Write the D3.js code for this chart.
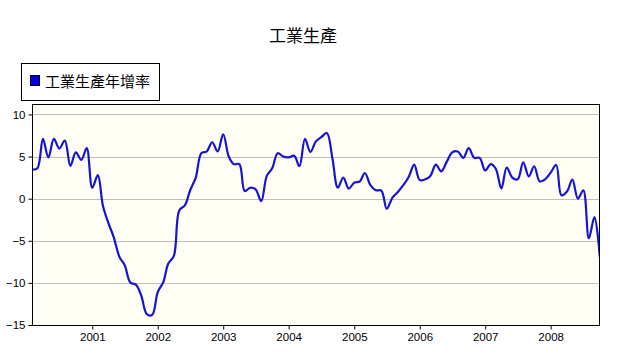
<!DOCTYPE html>
<html><head><meta charset="utf-8">
<script src="https://cdn.jsdelivr.net/npm/d3@7"></script>
<style>
body{margin:0;background:#fff;}
svg{display:block;}
</style></head>
<body>
<svg id="chart" width="632" height="356"></svg>
<script>
const title = "工業生產";
const seriesName = "工業生產年增率";
const startMonth = "2000-02";
const values = [
 3.45, 3.6, 7.1, 4.9, 7.1, 5.95, 6.9, 3.9, 5.5, 4.6, 6.0,
 1.3, 2.8, -0.8, -2.9, -4.6, -6.9, -7.9, -9.95, -10.2, -11.5, -13.7, -13.8,
 -11.1, -9.9, -7.7, -6.8, -1.4, -0.8, 1.0, 2.5, 5.4, 5.6, 6.7, 5.6, 7.65,
 5.0, 4.1, 4.1, 0.9, 1.3, 1.1, -0.3, 2.7, 3.6, 5.4, 5.0, 4.9,
 5.1, 3.85, 7.1, 5.55, 6.8, 7.3, 7.8, 4.8, 1.3, 2.5, 1.2, 1.9,
 2.05, 3.05, 1.6, 1.0, 0.95, -1.2, 0.1, 0.8, 1.6, 2.6, 4.05, 2.2,
 2.3, 2.7, 4.05, 3.25, 4.4, 5.5, 5.6, 4.85, 6.0, 4.85, 4.85, 3.35,
 4.1, 3.55, 1.2, 3.7, 2.5, 2.3, 4.3, 2.65, 3.85, 2.05, 2.3, 3.1,
 4.0, 0.4, 0.85, 2.25, 0.0, 1.0, -4.7, -2.2, -6.95
];
const yTicks = [-15, -10, -5, 0, 5, 10];
const xTickYears = [2001, 2002, 2003, 2004, 2005, 2006, 2007, 2008];

const parse = d3.timeParse("%Y-%m");
const t0 = parse(startMonth);
const data = values.map((v, i) => ({date: d3.timeMonth.offset(t0, i), value: v}));

const svg = d3.select("#chart");
const pL = 32.5, pR = 599.5, pT = 104.5, pB = 325.5;

const x = d3.scaleTime()
  .domain([new Date(2000, 1, 1), new Date(2008, 9, 1)])
  .range([32.2, 599.8]);
const y = d3.scaleLinear().domain([-15, 11.24]).range([325, 104]);

// plot background
svg.append("rect").attr("x", pL).attr("y", pT).attr("width", pR - pL).attr("height", pB - pT)
  .attr("fill", "#fffef4").attr("stroke", "none");

// gridlines
svg.append("g").selectAll("line").data(yTicks.filter(d => d > -15)).join("line")
  .attr("x1", pL).attr("x2", pR)
  .attr("y1", d => Math.round(y(d)) + 0.5).attr("y2", d => Math.round(y(d)) + 0.5)
  .attr("stroke", "#c0c0c0").attr("stroke-width", 1);

// clip
svg.append("clipPath").attr("id", "clip").append("rect")
  .attr("x", pL).attr("y", pT).attr("width", pR - pL).attr("height", pB - pT);

const line = d3.line().x(d => x(d.date)).y(d => y(d.value)).curve(d3.curveCatmullRom.alpha(0.5));
svg.append("path").datum(data).attr("d", line).attr("clip-path", "url(#clip)")
  .attr("fill", "none").attr("stroke", "#1414d2").attr("stroke-width", 2.2)
  .attr("stroke-linejoin", "round");

// border
svg.append("rect").attr("x", pL).attr("y", pT).attr("width", pR - pL).attr("height", pB - pT)
  .attr("fill", "none").attr("stroke", "#000").attr("stroke-width", 1);

// axes
const yAxis = d3.axisLeft(y).tickValues(yTicks).tickSize(4).tickPadding(3);
const gy = svg.append("g").attr("transform", `translate(${pL},0)`).call(yAxis);
gy.select(".domain").remove();
gy.selectAll("text").attr("font-family", "'Liberation Sans', Arial, sans-serif").attr("font-size", 11.5).attr("fill", "#000");
gy.selectAll(".tick line").attr("stroke", "#000");

const xAxis = d3.axisBottom(x).tickValues(xTickYears.map(yr => new Date(yr, 0, 1)))
  .tickFormat(d3.timeFormat("%Y")).tickSize(4).tickPadding(3);
const gx = svg.append("g").attr("transform", `translate(0,${pB})`).call(xAxis);
gx.select(".domain").remove();
gx.selectAll("text").attr("font-family", "'Liberation Sans', Arial, sans-serif").attr("font-size", 11.5).attr("fill", "#000");
gx.selectAll(".tick line").attr("stroke", "#000");

// title
svg.append("text").attr("x", 303).attr("y", 42).attr("text-anchor", "middle")
  .attr("font-family", "'Noto Sans CJK TC', sans-serif").attr("font-size", 17).attr("fill", "#000")
  .text(title);

// legend
const lg = svg.append("g");
lg.append("rect").attr("x", 21.5).attr("y", 63.5).attr("width", 138).attr("height", 37)
  .attr("fill", "#fff").attr("stroke", "#000");
lg.append("rect").attr("x", 30.5).attr("y", 75.5).attr("width", 9).attr("height", 10)
  .attr("fill", "#0000e0").attr("stroke", "#000030");
lg.append("text").attr("x", 45).attr("y", 87).attr("font-family", "'Noto Sans CJK TC', sans-serif")
  .attr("font-size", 15).attr("fill", "#000").text(seriesName);
</script>
</body></html>
